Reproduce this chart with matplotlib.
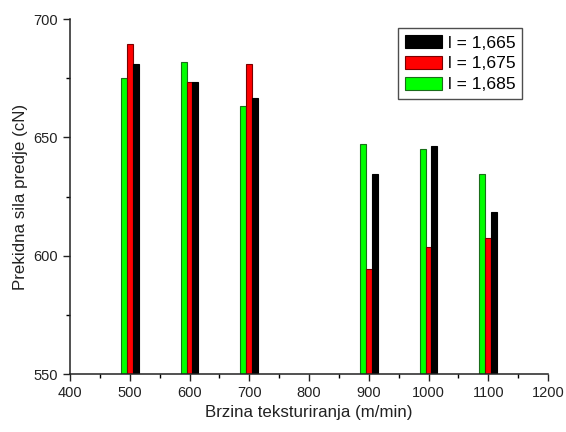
import matplotlib.pyplot as plt
import numpy as np
from matplotlib.ticker import MultipleLocator

plt.rcParams['font.family'] = ['Liberation Sans', 'DejaVu Sans']

# brzina teksturiranja (m/min)
speeds = [500, 600, 700, 900, 1000, 1100]

# prekidna sila (cN) za svaki odnos istezanja
force_1665 = [681.0, 673.3, 666.5, 634.5, 646.2, 618.6]
force_1675 = [689.3, 673.3, 681.1, 594.4, 603.8, 607.3]
force_1685 = [675.0, 681.7, 663.2, 647.2, 645.2, 634.4]

labels = ['l = 1,665', 'l = 1,675', 'l = 1,685']

fig = plt.figure(figsize=(5.66, 4.32), dpi=100)
ax = fig.add_axes([0.1237, 0.134, 0.8445, 0.822])

x = np.array(speeds)
w = 10
base = 550

# crtanje stupaca: zeleni lijevo, crveni u sredini, crni desno
ax.bar(x - w, np.array(force_1685) - base, w, bottom=base, color='#00ff00',
       edgecolor='#1a6e1a', linewidth=0.8, label=labels[2])
ax.bar(x, np.array(force_1675) - base, w, bottom=base, color='#ff0000',
       edgecolor='#7a0000', linewidth=0.8, label=labels[1])
ax.bar(x + w, np.array(force_1665) - base, w, bottom=base, color='#000000',
       edgecolor='#000000', linewidth=0.8, label=labels[0])

ax.set_xlim(400, 1200)
ax.set_ylim(550, 700)
ax.xaxis.set_major_locator(MultipleLocator(100))
ax.xaxis.set_minor_locator(MultipleLocator(50))
ax.yaxis.set_major_locator(MultipleLocator(50))
ax.yaxis.set_minor_locator(MultipleLocator(25))
ax.tick_params(which='major', direction='out', length=5, width=1, labelsize=10.5,
               colors='#222222')
ax.tick_params(which='minor', direction='out', length=3, width=1)

for s in ['top', 'right']:
    ax.spines[s].set_visible(False)
for s in ['left', 'bottom']:
    ax.spines[s].set_linewidth(1.1)
    ax.spines[s].set_color('#222222')

ax.set_xlabel('Brzina teksturiranja (m/min)', fontsize=12.2, color='#222222')
ax.set_ylabel('Prekidna sila predje (cN)', fontsize=12.2, color='#222222')

# legenda u obrnutom redoslijedu
h, l = ax.get_legend_handles_labels()
leg = ax.legend(h[::-1], l[::-1], loc='upper left', bbox_to_anchor=(0.686, 0.975),
                fontsize=12.6, frameon=True, fancybox=False, edgecolor='#222222',
                handlelength=2.1, handleheight=0.78, handletextpad=0.35,
                borderpad=0.4, labelspacing=0.3, borderaxespad=0.0)
leg.get_frame().set_linewidth(1.0)

plt.savefig('out.png', dpi=100)
plt.close()
